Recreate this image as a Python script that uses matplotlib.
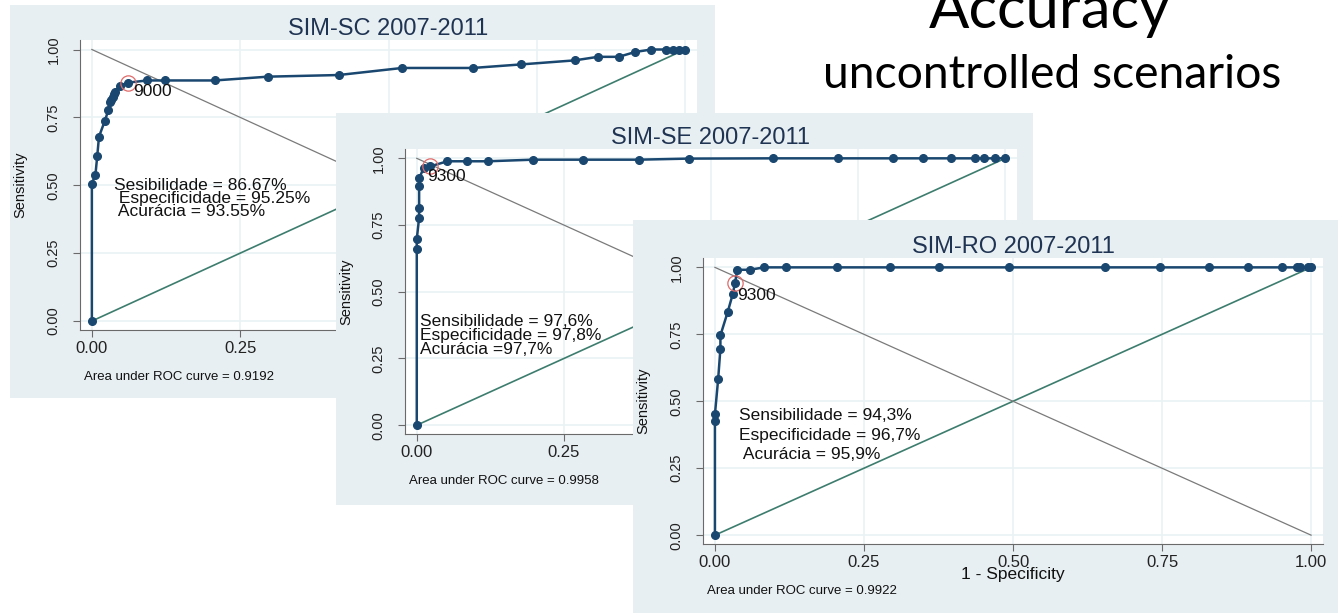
import matplotlib
matplotlib.use("Agg")
import matplotlib.pyplot as plt

# ROC points (1 - specificity, sensitivity)
sc_fpr = [0, 0, 0.006, 0.009, 0.012, 0.022, 0.028, 0.031, 0.033, 0.035, 0.037, 0.039,
          0.048, 0.061, 0.093, 0.123, 0.207, 0.297, 0.416, 0.523, 0.642, 0.723, 0.814,
          0.853, 0.888, 0.916, 0.943, 0.967, 0.979, 0.989, 1.0]
sc_sens = [0, 0.506, 0.539, 0.606, 0.679, 0.738, 0.778, 0.805, 0.815, 0.825, 0.835, 0.845,
           0.867, 0.878, 0.886, 0.886, 0.886, 0.900, 0.906, 0.932, 0.932, 0.945, 0.960,
           0.973, 0.973, 0.991, 1.0, 1.0, 1.0, 1.0, 1.0]

se_fpr = [0, 0, 0, 0.004, 0.004, 0.004, 0.004, 0.012, 0.023, 0.052, 0.085, 0.121, 0.198,
          0.283, 0.377, 0.462, 0.605, 0.715, 0.810, 0.860, 0.908, 0.948, 0.964, 0.982, 1.0]
se_sens = [0, 0.661, 0.697, 0.778, 0.813, 0.895, 0.925, 0.965, 0.970, 0.989, 0.989, 0.989,
           0.995, 0.995, 0.995, 0.999, 1.0, 1.0, 1.0, 1.0, 1.0, 1.0, 1.0, 1.0, 1.0]

ro_fpr = [0, 0, 0, 0.0054, 0.0092, 0.0092, 0.0215, 0.030, 0.0337, 0.0375, 0.058, 0.083,
          0.120, 0.205, 0.294, 0.376, 0.493, 0.654, 0.747, 0.829, 0.894, 0.951, 0.976,
          0.981, 0.994, 1.0]
ro_sens = [0, 0.426, 0.451, 0.582, 0.696, 0.746, 0.834, 0.901, 0.942, 0.991, 0.991, 1.0,
           1.0, 1.0, 1.0, 1.0, 1.0, 1.0, 1.0, 1.0, 1.0, 1.0, 1.0, 1.0, 1.0, 1.0]

titles = ["SIM-SC 2007-2011", "SIM-SE 2007-2011", "SIM-RO 2007-2011"]
auc = ["0.9192", "0.9958", "0.9922"]
cut_labels = ["9000", "9300", "9300"]
cut_index = [13, 8, 8]
stats = [["Sesibilidade = 86.67%", " Especificidade = 95.25%", " Acurácia = 93.55%"],
         ["Sensibilidade = 97,6%", "Especificidade = 97,8%", "Acurácia =97,7%"],
         ["Sensibilidade = 94,3%", "Especificidade = 96,7%", " Acurácia = 95,9%"]]
ticks = [0, 0.25, 0.5, 0.75, 1.0]
tick_labels = ["0.00", "0.25", "0.50", "0.75", "1.00"]
# the first two graphs are partly covered by the next one: only these x labels show
shown_xticks = [2, 2, 5]

W, H = 1344, 613
plt.rcParams['font.family'] = ['Liberation Sans', 'DejaVu Sans']
fig = plt.figure(figsize=(W / 100, H / 100), dpi=100)
fig.patch.set_facecolor('white')

NAVY = '#1a476f'
BG = '#e8eff2'
GRID = '#eaf2f3'


def rect(l, t, r, b):
    return [l / W, 1 - b / H, (r - l) / W, (b - t) / H]


def fx(x):
    return x / W


def fy(y):
    return 1 - y / H


# pixel layout of each pasted graph: background box, plot region
boxes = [(10, 5, 715, 398), (336, 113, 1033, 505), (633, 220, 1338, 613)]
plots = [(80, 40, 697, 330), (405, 149, 1017, 434), (703, 258, 1323, 544)]
# left x and centre y (data units) of the three-line note, and its line spacing
stat_pos = [(0.037, 0.452, 0.85), (0.005, 0.337, 0.9), (0.041, 0.373, 1.38)]
cut_text = [(0.07, 0.846), (0.018, 0.932), (0.0375, 0.895)]
data = [(sc_fpr, sc_sens), (se_fpr, se_sens), (ro_fpr, ro_sens)]

for i in range(3):
    bg = fig.add_axes(rect(*boxes[i]))
    bg.set_facecolor(BG)
    bg.set_xticks([])
    bg.set_yticks([])
    for s in bg.spines.values():
        s.set_visible(False)

    l, t, r, b = plots[i]
    ax = fig.add_axes(rect(l, t, r, b))
    ax.set_facecolor('white')
    ax.set_xlim(-0.02, 1.02)
    ax.set_ylim(-0.033, 1.035)
    for g in ticks:
        ax.axhline(g, color=GRID, lw=1.2, zorder=0)
        ax.axvline(g, color=GRID, lw=1.2, zorder=0)
    ax.spines['top'].set_visible(False)
    ax.spines['right'].set_visible(False)
    ax.spines['left'].set_color('#6a6a6a')
    ax.spines['bottom'].set_color('#6a6a6a')
    ax.set_xticks(ticks)
    n = shown_xticks[i]
    ax.set_xticklabels(tick_labels[:n] + [""] * (len(ticks) - n))
    ax.set_yticks(ticks)
    ax.set_yticklabels(tick_labels, rotation=90, va='center')
    ax.tick_params(axis='both', length=5, color='#6a6a6a', labelcolor='#222222')
    ax.tick_params(axis='x', pad=3, labelsize=12)
    ax.tick_params(axis='y', pad=9, labelsize=10.5)

    # reference lines
    ax.plot([0, 1], [0, 1], color='#3d7d6e', lw=1.2, zorder=2)
    ax.plot([0, 1], [1, 0], color='#7a7a7a', lw=0.9, zorder=2)

    fpr, sens = data[i]
    ax.plot(fpr, sens, color=NAVY, lw=1.8, marker='o', markersize=5.5, zorder=3)
    k = cut_index[i]
    ax.plot(fpr[k], sens[k], marker='o', markersize=11, markerfacecolor='none',
            markeredgecolor='#e06a6a', markeredgewidth=0.9, zorder=4)
    ax.text(cut_text[i][0], cut_text[i][1], cut_labels[i], fontsize=12.5,
            va='center', ha='left', color='#111111', zorder=5)

    sx, sy, sp = stat_pos[i]
    ax.text(sx, sy, "\n".join(stats[i]), fontsize=12.5, va='center', ha='left',
            linespacing=sp, color='#111111', zorder=5)

    # title, axis titles and footnote, drawn with this graph so the next one covers them
    ax.text(fx((l + r) / 2), fy(t - 11), titles[i], transform=fig.transFigure,
            ha='center', va='center', fontsize=17, color='#1f3352')
    ax.text(fx(boxes[i][0] + 10), fy((t + b) / 2), "Sensitivity", transform=fig.transFigure,
            rotation=90, ha='center', va='center', fontsize=10.5, color='#111111')
    if i == 2:
        ax.text(fx((l + r) / 2), fy(b + 31), "1 - Specificity", transform=fig.transFigure,
                ha='center', va='center', fontsize=12.5, color='#111111')
    ax.text(fx(l + 4), fy(b + 47), "Area under ROC curve = " + auc[i],
            transform=fig.transFigure, ha='left', va='center', fontsize=9.5, color='#111111')

fig.text(fx(1050), fy(28), "Accuracy", family=['Lato', 'DejaVu Sans'],
         fontsize=43, ha='center', va='baseline', color='black')
fig.text(fx(1052), fy(88), "uncontrolled scenarios", family=['Lato', 'DejaVu Sans'],
         fontsize=33.3, ha='center', va='baseline', color='black')

fig.savefig("out.png", dpi=100)
